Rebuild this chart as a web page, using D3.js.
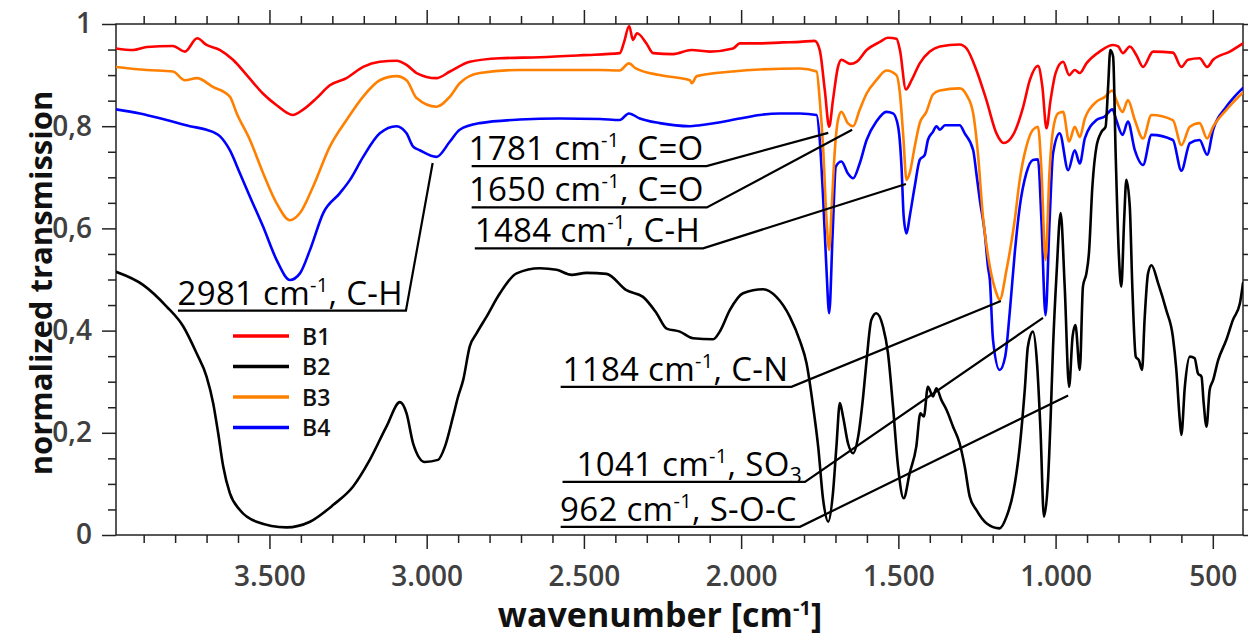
<!DOCTYPE html>
<html><head><meta charset="utf-8">
<script src="https://cdn.jsdelivr.net/npm/d3@7"></script>
<style>body{margin:0;background:#fff}</style>
</head><body>
<svg id="chart" width="1248" height="639"></svg>
<script>
// ---------- data (wavenumber [cm-1], normalized transmission) ----------
const seriesNames = ["B1", "B2", "B3", "B4"];
const seriesColors = ["#ff0000", "#000000", "#ff8000", "#0000ff"];

const b1 = [[3988,0.952],[3934,0.949],[3890,0.955],[3807,0.957],[3769,0.946],[3730,0.972],[3700,0.959],[3657,0.949],[3616,0.93],[3568,0.897],[3521,0.864],[3477,0.841],[3426,0.822],[3394,0.832],[3350,0.855],[3308,0.88],[3255,0.894],[3202,0.916],[3149,0.926],[3096,0.928],[3064,0.92],[3032,0.904],[2969,0.894],[2926,0.907],[2863,0.926],[2767,0.933],[2640,0.935],[2503,0.939],[2386,0.943],[2373,0.963],[2356,0.996],[2344,0.969],[2331,0.982],[2301,0.962],[2280,0.943],[2216,0.941],[2158,0.949],[2100,0.946],[2026,0.952],[2004,0.962],[1941,0.962],[1867,0.964],[1813,0.965],[1766,0.967],[1750,0.949],[1734,0.871],[1720,0.799],[1708,0.851],[1692,0.916],[1681,0.93],[1654,0.922],[1633,0.926],[1601,0.949],[1559,0.965],[1533,0.973],[1506,0.971],[1495,0.949],[1476,0.872],[1458,0.89],[1432,0.923],[1400,0.946],[1368,0.956],[1305,0.96],[1283,0.952],[1252,0.91],[1220,0.851],[1188,0.786],[1165,0.767],[1135,0.783],[1103,0.838],[1082,0.89],[1056,0.918],[1042,0.877],[1029,0.796],[1016,0.851],[1000,0.904],[976,0.926],[957,0.90],[939,0.91],[923,0.904],[902,0.923],[860,0.946],[817,0.959],[801,0.956],[786,0.943],[764,0.956],[743,0.939],[722,0.916],[690,0.946],[627,0.944],[600,0.916],[579,0.93],[542,0.933],[518,0.916],[499,0.93],[446,0.946],[404,0.962]];

const b2 = [[3988,0.515],[3901,0.489],[3827,0.447],[3774,0.408],[3732,0.356],[3700,0.31],[3679,0.258],[3663,0.199],[3647,0.134],[3626,0.082],[3594,0.049],[3541,0.026],[3446,0.015],[3371,0.026],[3297,0.059],[3234,0.095],[3181,0.147],[3128,0.212],[3085,0.26],[3064,0.238],[3043,0.179],[3006,0.143],[2964,0.147],[2942,0.173],[2916,0.232],[2900,0.271],[2884,0.303],[2863,0.369],[2841,0.395],[2810,0.427],[2767,0.473],[2714,0.512],[2640,0.522],[2587,0.519],[2539,0.509],[2492,0.513],[2428,0.511],[2365,0.479],[2312,0.466],[2269,0.434],[2237,0.404],[2195,0.398],[2153,0.385],[2089,0.383],[2068,0.398],[2036,0.44],[1994,0.473],[1930,0.481],[1888,0.466],[1845,0.427],[1813,0.38],[1792,0.336],[1771,0.251],[1755,0.173],[1739,0.068],[1723,0.026],[1708,0.082],[1697,0.173],[1686,0.258],[1676,0.232],[1660,0.179],[1644,0.16],[1628,0.192],[1612,0.271],[1601,0.342],[1586,0.421],[1570,0.434],[1549,0.408],[1533,0.356],[1517,0.251],[1501,0.134],[1483,0.072],[1464,0.121],[1443,0.173],[1430,0.238],[1419,0.232],[1406,0.29],[1390,0.271],[1379,0.287],[1363,0.264],[1347,0.245],[1326,0.212],[1305,0.179],[1289,0.134],[1273,0.075],[1252,0.049],[1220,0.023],[1178,0.013],[1156,0.036],[1135,0.082],[1114,0.173],[1098,0.284],[1088,0.369],[1072,0.398],[1059,0.336],[1048,0.205],[1037,0.036],[1024,0.108],[1016,0.225],[1008,0.369],[997,0.51],[984,0.63],[971,0.486],[957,0.29],[946,0.388],[937,0.411],[923,0.323],[913,0.486],[902,0.512],[894,0.551],[883,0.682],[870,0.76],[854,0.789],[841,0.799],[833,0.877],[826,0.949],[817,0.936],[809,0.747],[799,0.551],[791,0.486],[782,0.616],[775,0.695],[764,0.642],[756,0.486],[745,0.349],[735,0.342],[725,0.323],[717,0.421],[706,0.512],[695,0.528],[674,0.493],[648,0.44],[627,0.388],[616,0.323],[605,0.225],[600,0.196],[589,0.29],[573,0.349],[558,0.346],[547,0.316],[536,0.31],[529,0.258],[520,0.212],[510,0.284],[499,0.303],[483,0.342],[457,0.382],[436,0.421],[414,0.453],[404,0.493]];

const b3 = [[3988,0.916],[3890,0.91],[3807,0.907],[3769,0.89],[3731,0.894],[3680,0.877],[3626,0.858],[3604,0.825],[3562,0.773],[3520,0.708],[3477,0.649],[3435,0.616],[3403,0.63],[3361,0.682],[3308,0.76],[3255,0.812],[3202,0.858],[3149,0.89],[3096,0.898],[3064,0.89],[3032,0.855],[2969,0.838],[2926,0.858],[2895,0.884],[2831,0.904],[2704,0.91],[2449,0.91],[2386,0.909],[2357,0.923],[2335,0.913],[2259,0.90],[2163,0.89],[2157,0.884],[2141,0.898],[2027,0.907],[1941,0.911],[1813,0.913],[1760,0.907],[1750,0.851],[1739,0.755],[1729,0.623],[1720,0.558],[1712,0.642],[1702,0.753],[1692,0.812],[1681,0.828],[1661,0.806],[1644,0.80],[1623,0.832],[1601,0.864],[1570,0.89],[1538,0.909],[1506,0.90],[1495,0.864],[1485,0.786],[1474,0.695],[1464,0.708],[1448,0.76],[1432,0.806],[1411,0.828],[1390,0.862],[1368,0.87],[1305,0.874],[1283,0.861],[1262,0.825],[1247,0.747],[1231,0.623],[1209,0.525],[1188,0.473],[1178,0.46],[1156,0.519],[1130,0.616],[1114,0.695],[1093,0.76],[1072,0.793],[1056,0.799],[1045,0.714],[1032,0.538],[1019,0.714],[1008,0.793],[992,0.825],[976,0.828],[957,0.77],[939,0.799],[923,0.779],[907,0.815],[870,0.848],[844,0.857],[819,0.87],[807,0.851],[787,0.828],[770,0.851],[748,0.812],[722,0.776],[695,0.822],[627,0.812],[600,0.763],[573,0.799],[542,0.806],[518,0.776],[499,0.799],[457,0.832],[404,0.866]];

const b4 = [[3988,0.833],[3912,0.825],[3827,0.812],[3753,0.80],[3700,0.793],[3657,0.78],[3626,0.753],[3594,0.708],[3562,0.662],[3520,0.603],[3477,0.538],[3435,0.499],[3403,0.512],[3371,0.558],[3329,0.63],[3276,0.669],[3244,0.695],[3202,0.74],[3149,0.786],[3096,0.80],[3064,0.786],[3043,0.76],[3022,0.753],[2969,0.74],[2926,0.77],[2895,0.793],[2831,0.806],[2704,0.813],[2577,0.815],[2449,0.814],[2386,0.812],[2357,0.825],[2322,0.815],[2259,0.806],[2163,0.80],[2131,0.802],[2004,0.815],[1941,0.822],[1877,0.825],[1813,0.825],[1760,0.822],[1750,0.773],[1739,0.656],[1729,0.525],[1720,0.434],[1709,0.59],[1699,0.721],[1681,0.731],[1661,0.708],[1644,0.698],[1623,0.727],[1601,0.773],[1570,0.809],[1538,0.828],[1517,0.825],[1501,0.80],[1490,0.721],[1483,0.623],[1474,0.59],[1464,0.623],[1448,0.682],[1432,0.734],[1416,0.744],[1406,0.773],[1390,0.789],[1379,0.80],[1368,0.793],[1352,0.802],[1305,0.802],[1289,0.786],[1262,0.753],[1252,0.708],[1241,0.656],[1225,0.59],[1215,0.525],[1209,0.499],[1199,0.382],[1178,0.323],[1160,0.35],[1146,0.434],[1130,0.551],[1114,0.642],[1093,0.708],[1072,0.734],[1056,0.735],[1045,0.616],[1032,0.43],[1019,0.616],[1008,0.747],[987,0.786],[960,0.714],[939,0.753],[923,0.727],[907,0.776],[870,0.812],[844,0.819],[819,0.833],[807,0.812],[787,0.783],[770,0.809],[748,0.753],[722,0.724],[695,0.783],[627,0.773],[600,0.713],[573,0.767],[542,0.773],[518,0.744],[499,0.793],[457,0.838],[404,0.875]];

const seriesData = [b1, b2, b3, b4];
const drawOrder = [3, 2, 0, 1]; // B4, B3, B1, then B2 on top

const xDomain = [3988, 404];
const yDomain = [0, 1];
const xMajorTicks = [3500, 3000, 2500, 2000, 1500, 1000, 500];
const xTickLabels = ["3.500", "3.000", "2.500", "2.000", "1.500", "1.000", "500"];
const yMajorTicks = [0, 0.2, 0.4, 0.6, 0.8, 1];
const yTickLabels = ["0", "0,2", "0,4", "0,6", "0,8", "1"];

// annotations: label, group, underline start/end (wavenumber), underline level, target point
const annotNumbers = ["2981", "1781", "1650", "1484", "1184", "1041", "962"];
const annotGroups  = ["C-H", "C=O", "C=O", "C-H", "C-N", "SO|3", "S-O-C"];
const annotLineStart = [3791, 2857, 2857, 2847, 2574, 2568, 2574];
const annotLineEnd   = [3066, 2110, 2109, 2121, 1840, 1797, 1813];
const annotLineValue = [0.439, 0.722, 0.641, 0.561, 0.290, 0.104, 0.016];
const annotTargetW   = [2981, 1723, 1647, 1476, 1174, 1040, 960];
const annotTargetV   = [0.728, 0.787, 0.793, 0.687, 0.458, 0.425, 0.273];

// ---------- layout ----------
const M = {left: 116, right: 1243, top: 24, bottom: 535};
const svg = d3.select("#chart");
const x = d3.scaleLinear().domain(xDomain).range([M.left, M.right]);
const y = d3.scaleLinear().domain(yDomain).range([M.bottom, M.top]);
const axisColor = "#222";
const tickFont = "'Open Sans', 'Noto Sans', sans-serif";

const xMinor = d3.range(500, 3901, 100).filter(v => !xMajorTicks.includes(v));
const yMinor = d3.range(0, 21).map(i => i * 0.05).filter(v => !yMajorTicks.some(t => Math.abs(t - v) < 1e-6));

function styleAxis(g) {
  g.select(".domain").remove();
  g.selectAll(".tick line").attr("stroke", axisColor).attr("stroke-width", 1.5);
}

// bottom axis
const xBottomMajor = d3.axisBottom(x).tickValues(xMajorTicks).tickSize(14)
  .tickFormat((d, i) => xTickLabels[i]).tickPadding(17);
svg.append("g").attr("transform", `translate(0,${M.bottom})`).call(xBottomMajor).call(styleAxis)
  .selectAll("text").attr("font-family", tickFont).attr("font-size", 28).attr("font-weight", 600).attr("fill", "#404040");
svg.append("g").attr("transform", `translate(0,${M.bottom})`)
  .call(d3.axisBottom(x).tickValues(xMinor).tickSize(8).tickFormat("")).call(styleAxis);
// top axis
svg.append("g").attr("transform", `translate(0,${M.top})`)
  .call(d3.axisTop(x).tickValues(xMajorTicks).tickSize(14).tickFormat("")).call(styleAxis);
svg.append("g").attr("transform", `translate(0,${M.top})`)
  .call(d3.axisTop(x).tickValues(xMinor).tickSize(8).tickFormat("")).call(styleAxis);
// left axis
svg.append("g").attr("transform", `translate(${M.left},0)`)
  .call(d3.axisLeft(y).tickValues(yMajorTicks).tickSize(14).tickPadding(10).tickFormat((d, i) => yTickLabels[i]))
  .call(styleAxis)
  .selectAll("text").attr("font-family", tickFont).attr("font-size", 28).attr("font-weight", 600).attr("fill", "#404040");
svg.append("g").attr("transform", `translate(${M.left},0)`)
  .call(d3.axisLeft(y).tickValues(yMinor).tickSize(8).tickFormat("")).call(styleAxis);
// right axis
svg.append("g").attr("transform", `translate(${M.right},0)`)
  .call(d3.axisRight(y).tickValues(yMajorTicks).tickSize(14).tickFormat("")).call(styleAxis);
svg.append("g").attr("transform", `translate(${M.right},0)`)
  .call(d3.axisRight(y).tickValues(yMinor).tickSize(8).tickFormat("")).call(styleAxis);

// frame
svg.append("rect").attr("x", M.left).attr("y", M.top)
  .attr("width", M.right - M.left).attr("height", M.bottom - M.top)
  .attr("fill", "none").attr("stroke", axisColor).attr("stroke-width", 1.5);

// clip
svg.append("clipPath").attr("id", "clip").append("rect")
  .attr("x", M.left).attr("y", M.top - 2).attr("width", M.right - M.left).attr("height", M.bottom - M.top + 2);

// curves
const line = d3.line().x(d => x(d[0])).y(d => y(d[1])).curve(d3.curveMonotoneX);
const plot = svg.append("g").attr("clip-path", "url(#clip)");
drawOrder.forEach(i => {
  plot.append("path").datum(seriesData[i])
    .attr("d", line).attr("fill", "none")
    .attr("stroke", seriesColors[i]).attr("stroke-width", 2.6)
    .attr("stroke-linejoin", "round").attr("stroke-linecap", "round");
});

// annotations
const annFont = "'Open Sans', 'Noto Sans', sans-serif";
annotNumbers.forEach((num, i) => {
  const x0 = x(annotLineStart[i]), x1 = x(annotLineEnd[i]), yl = y(annotLineValue[i]);
  svg.append("path")
    .attr("d", `M${x0},${yl}L${x1},${yl}L${x(annotTargetW[i])},${y(annotTargetV[i])}`)
    .attr("fill", "none").attr("stroke", "#000").attr("stroke-width", 2.2);
  const t = svg.append("text").attr("x", x1 - 3).attr("y", yl - 6)
    .attr("text-anchor", "end").attr("font-family", annFont).attr("font-size", 33)
    .attr("letter-spacing", 0.3).attr("font-weight", 500).attr("fill", "#000");
  t.append("tspan").text(num + " cm");
  t.append("tspan").attr("dy", -13).attr("font-size", 20).text("-1");
  const grp = annotGroups[i].split("|");
  t.append("tspan").attr("dy", 13).text(", " + grp[0]);
  if (grp[1]) t.append("tspan").attr("dy", 7).attr("font-size", 21).text(grp[1]);
});

// legend
const legendX = 233, legendY = 336, legendStep = 30.5;
seriesNames.forEach((name, i) => {
  const ly = legendY + i * legendStep;
  svg.append("line").attr("x1", legendX).attr("x2", legendX + 56).attr("y1", ly).attr("y2", ly)
    .attr("stroke", seriesColors[i]).attr("stroke-width", 3.5);
  svg.append("text").attr("x", legendX + 69).attr("y", ly + 8.5)
    .attr("font-family", annFont).attr("font-size", 23).attr("font-weight", 600).attr("fill", "#111").text(name);
});

// axis titles
svg.append("text").attr("transform", `translate(52,283) rotate(-90)`)
  .attr("text-anchor", "middle").attr("font-family", annFont).attr("font-size", 31)
  .attr("font-weight", 700).attr("fill", "#111").text("normalized transmission");
const xt = svg.append("text").attr("x", 660).attr("y", 627).attr("text-anchor", "middle")
  .attr("font-family", annFont).attr("font-size", 34).attr("font-weight", 700).attr("fill", "#111");
xt.append("tspan").text("wavenumber [cm");
xt.append("tspan").attr("dy", -12).attr("font-size", 20).text("-1");
xt.append("tspan").attr("dy", 12).text("]");
</script>
</body></html>
